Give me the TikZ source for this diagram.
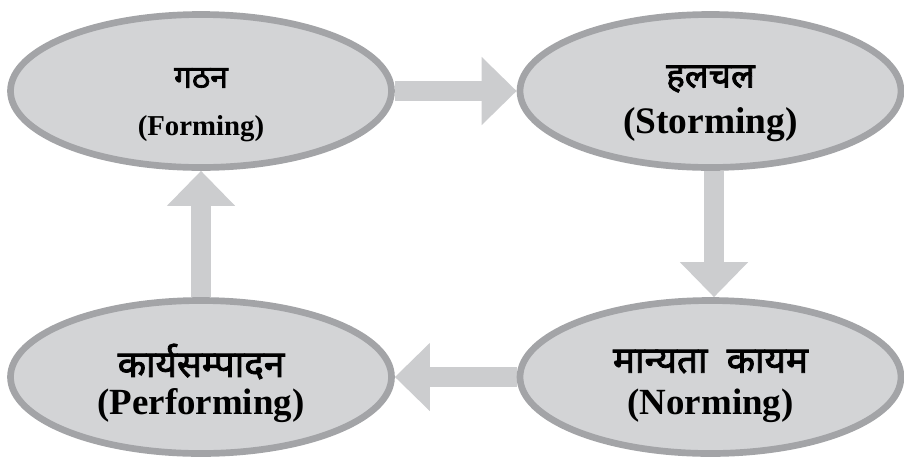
\documentclass[tikz,border=0pt]{standalone}
\usepackage{fontspec}
\setmainfont{Liberation Serif}
\newfontfamily\hindi[Script=Devanagari, FakeBold=2.2]{Noto Sans}
\usepackage{tikz}
\usetikzlibrary{shapes.geometric, arrows.meta, positioning, backgrounds}
\definecolor{stagefill}{RGB}{211,212,214}
\definecolor{stageline}{RGB}{163,164,167}
\definecolor{flowgray}{RGB}{204,205,207}
\tikzset{stage/.style={ellipse, draw=stageline, fill=stagefill, line width=3.8pt,
  minimum width=7.62cm, minimum height=3.06cm, inner sep=0pt},
hinditext/.style={inner sep=0pt, font=\fontsize{#1}{#1}\selectfont\hindi},
hinditext/.default={21},
engltext/.style={inner sep=0pt, font=\fontsize{#1}{#1}\selectfont\bfseries},
engltext/.default={21},
%block arrow between the stages
flowarrow/.style={draw=flowgray, line width=0.4cm,
  -{Triangle[width=1.32cm, length=0.7cm, fill=flowgray]}}}

\begin{document}
\begin{tikzpicture}
 \useasboundingbox (0,0) rectangle (18.08,-9.12);

 %Drawing the four stages
 \node[stage] (form) at (4.02,-1.82) {};
 \node[stage] (storm) at (14.21,-1.82) {};
 \node[stage] (norm) at (14.21,-7.54) {};
 \node[stage] (perform) at (4.02,-7.54) {};

 %Drawing the labels
 \node[hinditext=18] (formhi) at ([yshift=0.26cm]form.center) {गठन};
 \node[engltext=16.4] (formen) at ([yshift=-0.76cm]form.center) {(Forming)};
 \node[hinditext=20] (stormhi) at ([yshift=0.24cm]storm.center) {हलचल};
 \node[engltext=21.3] (stormen) at ([yshift=-0.68cm]storm.center) {(Storming)};
 \node[hinditext] (normhi) at ([yshift=0.31cm]norm.center) {मान्यता\ \ कायम};
 \node[engltext] (normen) at ([yshift=-0.57cm]norm.center) {(Norming)};
 \node[hinditext] (performhi) at ([yshift=0.31cm]perform.center) {कार्यसम्पादन};
 \node[engltext] (performen) at ([yshift=-0.58cm]perform.center) {(Performing)};

 %Drawing the arrows behind the stages
 \begin{scope}[on background layer]
  \draw[flowarrow] (form.east) -- (storm.west);
  \draw[flowarrow] ([xshift=0.07cm]storm.south) -- ([xshift=0.07cm]norm.north);
  \draw[flowarrow] (norm.west) -- (perform.east);
  \draw[flowarrow] (perform.north) -- (form.south);
 \end{scope}
\end{tikzpicture}
\end{document}
